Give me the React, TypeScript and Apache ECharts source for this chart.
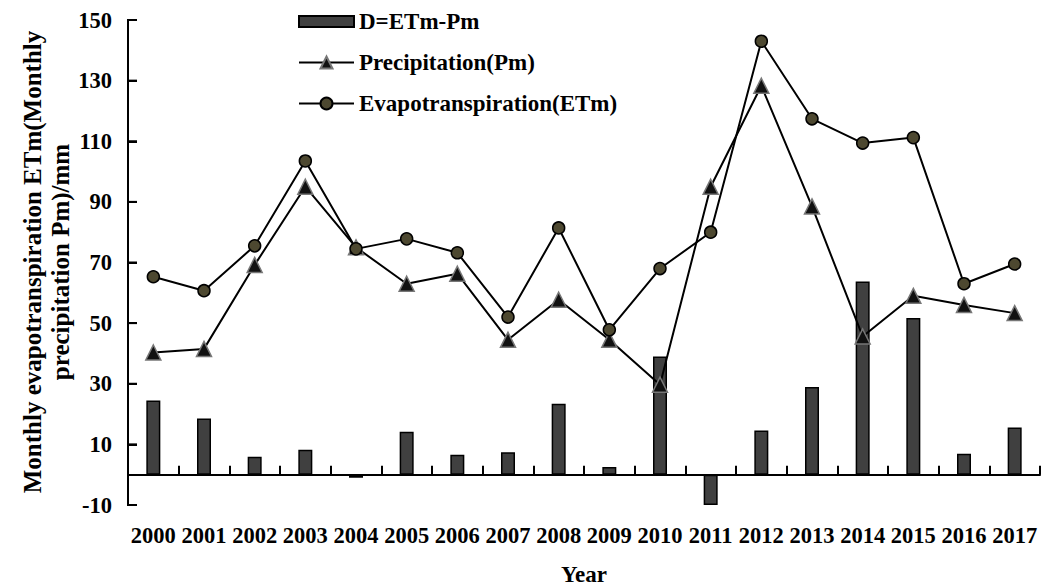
import React, { useEffect, useRef } from "react";
import * as echarts from "echarts";

const years = ["2000", "2001", "2002", "2003", "2004", "2005", "2006", "2007", "2008", "2009", "2010", "2011", "2012", "2013", "2014", "2015", "2016", "2017"];
const dValues = [24.5, 18.5, 5.9, 8.2, -1, 14.2, 6.6, 7.4, 23.4, 2.5, 39, -10, 14.6, 28.9, 63.7, 51.7, 6.9, 15.6];
const precipitation = [40.3, 41.5, 69.2, 95, 75, 63, 66.3, 44.5, 57.7, 44.5, 29.7, 95, 128.3, 88.5, 45.6, 59, 56, 53.3];
const evapotranspiration = [65.3, 60.7, 75.5, 103.5, 74.5, 77.8, 73.2, 52, 81.4, 47.8, 68, 80, 143, 117.4, 109.4, 111.2, 63, 69.5];
const yMin = -10;
const yMax = 150;
const yStep = 20;
const yTicks = [-10, 10, 30, 50, 70, 90, 110, 130, 150];
const yTitle = "Monthly evapotranspiration ETm(Monthly\nprecipitation Pm)/mm";

const FONT = "'Liberation Serif', 'Times New Roman', serif";
const W = 1048;
const H = 586;
const GRID = { left: 128, right: 8, top: 20, bottom: 81 };

export default function App() {
  const ref = useRef<HTMLDivElement>(null);
  useEffect(() => {
    if (!ref.current) return;
    const chart = echarts.init(ref.current, null, { renderer: "svg" });
    const txt = { fontFamily: FONT, fontWeight: "bold" as const, color: "#000" };
    const black = { color: "#000", width: 2, type: "solid" as const, opacity: 1 };

    // y-axis spine and inward ticks (axis decoration), mapped linearly onto the grid
    const plotH = H - GRID.top - GRID.bottom;
    const yPix = (v: number) => GRID.top + ((yMax - v) / (yMax - yMin)) * plotH;
    const axisX = GRID.left;
    const spine: any[] = [
      {
        type: "rect",
        z: 100,
        silent: true,
        shape: { x: axisX - 1, y: yPix(yMax) - 1, width: 2, height: yPix(yMin) - yPix(yMax) + 2 },
        style: { fill: "#000" },
      },
      ...yTicks.map((v) => ({
        type: "rect",
        z: 100,
        silent: true,
        shape: { x: axisX, y: yPix(v) - 1, width: 9, height: 2 },
        style: { fill: "#000" },
      })),
    ];

    chart.setOption({
      animation: false,
      backgroundColor: "#fff",
      textStyle: { fontFamily: FONT },
      grid: { ...GRID, outerBoundsMode: "none" },
      legend: {
        orient: "vertical",
        left: 293,
        top: 5,
        itemWidth: 55,
        itemHeight: 15,
        itemGap: 18,
        textStyle: { ...txt, fontSize: 23 },
        data: [
          { name: "D=ETm-Pm", icon: "path://M0,0H55V11H0Z" },
          { name: "Precipitation(Pm)" },
          { name: "Evapotranspiration(ETm)" },
        ],
      },
      graphic: [
        {
          type: "text",
          x: 46,
          y: 262,
          rotation: Math.PI / 2,
          style: {
            text: yTitle,
            font: "bold 25px " + FONT,
            fill: "#000",
            align: "center",
            verticalAlign: "middle",
            lineHeight: 28,
          },
        },
        ...spine,
      ],
      xAxis: {
        type: "category",
        data: years,
        boundaryGap: true,
        name: "Year",
        nameLocation: "middle",
        nameGap: 58,
        nameMoveOverlap: false,
        nameTextStyle: { ...txt, fontSize: 23 },
        axisLine: { show: true, onZero: true, lineStyle: black },
        axisTick: { show: true, inside: true, length: 9, lineStyle: black },
        axisLabel: { ...txt, fontSize: 22.5, margin: 19, interval: 0 },
        splitLine: { show: false },
      },
      yAxis: {
        type: "value",
        min: yMin,
        max: yMax,
        interval: yStep,
        axisLine: { show: true, onZero: false, lineStyle: black },
        axisTick: { show: true, inside: true, length: 9, lineStyle: black },
        axisLabel: { ...txt, fontSize: 22.5, margin: 16 },
        splitLine: { show: false },
      },
      series: [
        {
          name: "D=ETm-Pm",
          type: "bar",
          data: dValues,
          barWidth: 14,
          itemStyle: { color: "#404040", borderColor: "#000", borderWidth: 1.5 },
        },
        {
          name: "Precipitation(Pm)",
          type: "line",
          data: precipitation,
          symbol: "triangle",
          symbolSize: 15,
          lineStyle: { color: "#000", width: 2 },
          itemStyle: { color: "#111", borderColor: "#777", borderWidth: 1.5 },
        },
        {
          name: "Evapotranspiration(ETm)",
          type: "line",
          data: evapotranspiration,
          symbol: "circle",
          symbolSize: 12,
          lineStyle: { color: "#000", width: 2 },
          itemStyle: { color: "#4d4830", borderColor: "#000", borderWidth: 1.5 },
        },
      ],
    });
    return () => chart.dispose();
  }, []);
  return <div ref={ref} style={{ position: "fixed", left: 0, top: 0, width: W, height: H }} />;
}
